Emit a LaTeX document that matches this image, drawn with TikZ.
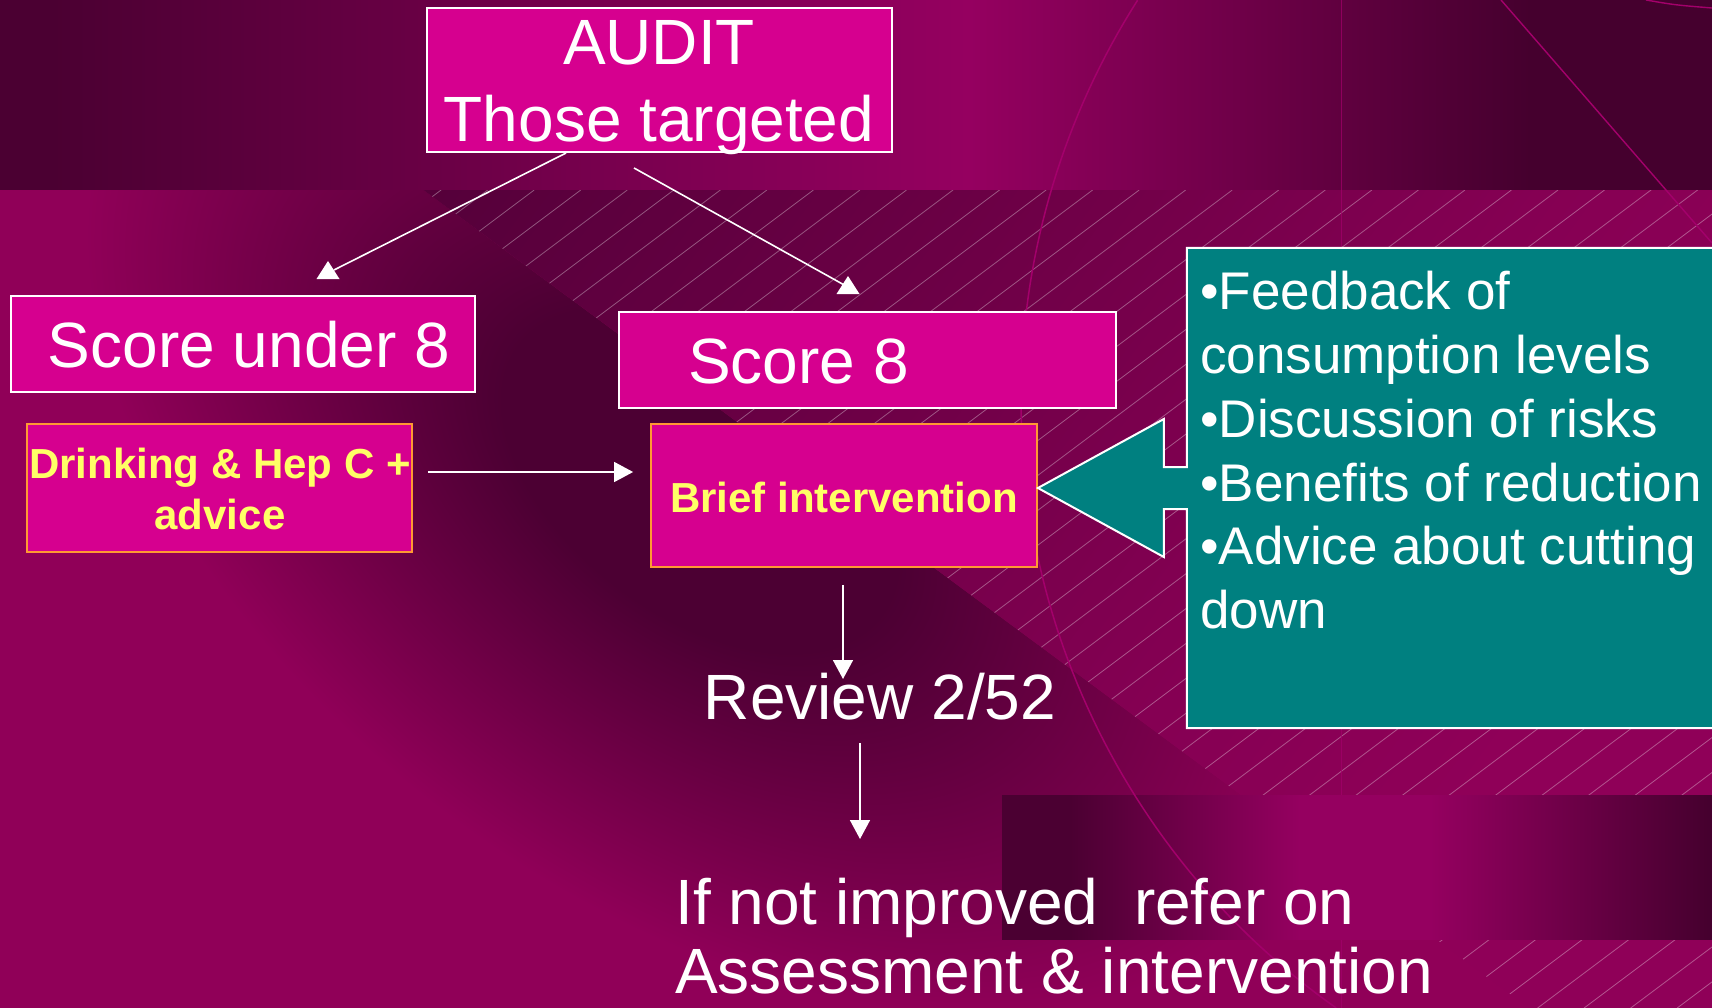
\documentclass[tikz,border=0pt]{standalone}
\usepackage{fontspec}
\setmainfont{Liberation Sans}
\usetikzlibrary{arrows.meta,calc}

\definecolor{bgmag}{HTML}{900058}
\definecolor{bgdark}{HTML}{4B0032}
\definecolor{bgdarkR}{HTML}{45002E}
\definecolor{bgpeak}{HTML}{950060}
\definecolor{lldark}{HTML}{4C0033}
\definecolor{hA}{HTML}{55003A}
\definecolor{hB}{HTML}{6B0045}
\definecolor{hC}{HTML}{850053}
\definecolor{hD}{HTML}{8F0058}
\definecolor{boxpink}{HTML}{D6008F}
\definecolor{tealc}{HTML}{008080}
\definecolor{yel}{HTML}{FFFF66}
\definecolor{orng}{HTML}{FF9933}
\definecolor{decorc}{HTML}{A3006B}

\pgfdeclarehorizontalshading{bandshade}{100bp}{color(0bp)=(bgdark); color(26.5bp)=(bgdark); color(53.3bp)=(bgpeak); color(69.7bp)=(bgdarkR); color(100bp)=(bgdarkR)}
\pgfdeclarehorizontalshading{rectshade}{100bp}{color(0bp)=(bgdark); color(29.8bp)=(bgdark); color(46bp)=(bgpeak); color(55.1bp)=(bgpeak); color(75bp)=(bgdarkR); color(100bp)=(bgdarkR)}
\pgfdeclarehorizontalshading{hatchshade}{100bp}{color(0bp)=(hA); color(25bp)=(hA); color(39.1bp)=(hB); color(53.1bp)=(hC); color(62.5bp)=(hD); color(100bp)=(hD)}
\pgfdeclareradialshading{llshade}{\pgfpointorigin}{color(0bp)=(lldark); color(8bp)=(lldark); color(25bp)=(bgmag); color(50bp)=(bgmag)}

\tikzset{
  pinkbox/.style={rectangle, fill=boxpink, draw=white, line width=2pt, inner sep=0pt},
  orangebox/.style={rectangle, fill=boxpink, draw=orng, line width=1.8pt, inner sep=0pt},
  bigtxt/.style={text=white, font=\fontsize{64}{77}\selectfont, inner sep=0pt, anchor=base},
  yeltxt/.style={text=yel, font=\bfseries\fontsize{42}{50}\selectfont, inner sep=0pt, anchor=base},
  listtxt/.style={text=white, font=\fontsize{53}{64}\selectfont, inner sep=0pt, anchor=base west},
  conn/.style={draw=white, line width=1.6pt},
  arr/.style={conn, -{Triangle[length=19pt,width=20pt]}},
  hatchline/.style={draw=white, opacity=0.33, line width=0.8pt},
  decorline/.style={draw=decorc, line width=1.5pt},
  callout/.style={fill=tealc, draw=white, line width=2pt, line join=miter},
}

\begin{document}
\begin{tikzpicture}[x=1pt,y=-1pt]
\useasboundingbox (0,0) rectangle (1712,1008);

% ---------- background ----------
\fill[bgmag] (0,0) rectangle (1712,1008);

% lower-left dark region
\begin{scope}
  \clip (0,190) -- (423.5,190) -- (1529,1008) -- (0,1008) -- cycle;
  \begin{scope}[transform canvas={shift={(700,480)},rotate=-36.6}]
    \shade[shading=llshade] (0,0) ellipse [x radius=700, y radius=420];
  \end{scope}
\end{scope}

% hatched region
\begin{scope}
  \clip (423.5,190) -- (1712,190) -- (1712,1008) -- (1529,1008) -- cycle;
  \begin{scope}[transform canvas={shift={(423.5,190)},rotate=-36.6}]
    \shade[shading=hatchshade] (0,-900) rectangle (1600,900);
  \end{scope}
  \foreach \i in {0,...,52}{
    \pgfmathsetmacro\cc{485.95+34.9*\i}
    \draw[hatchline] ({(\cc-1008)/0.75},1008) -- ({(\cc-190)/0.75},190);
  }
\end{scope}

% top band
\shade[shading=bandshade] (0,0) rectangle (1712,190);

% faint vertical line
\draw[decorline, line width=1pt, opacity=0.7] (1341,0) -- (1341,1008);

% bottom-right band
\shade[shading=rectshade] (1002,795) rectangle (1712,939);

% decorative arcs and line
\draw[decorline] plot[domain=125.2:212.5, samples=90] ({1765+744*cos(\x)},{400+744*sin(\x)});
\draw[decorline, line width=1.4pt] (1501,0) -- (1712,243);
\draw[decorline, line width=1.4pt] (1646,0) .. controls (1675,5) .. (1712,8);

% ---------- boxes ----------
\node[pinkbox, minimum width=465, minimum height=144] (audit) at (659.5,80) {};
\node[bigtxt] (auditA) at (659,65) {AUDIT};
\node[bigtxt] (auditB) at (659,142) {Those targeted};

\node[pinkbox, minimum width=464, minimum height=96] (under8) at (243,344) {};
\node[bigtxt] (under8t) at (249,367) {Score under 8};

\node[pinkbox, minimum width=497, minimum height=96] (score8) at (867.5,360) {};
\node[bigtxt, anchor=base west] (score8t) at (688,383) {Score 8};

\node[orangebox, minimum width=385, minimum height=128] (drink) at (219.5,488) {};
\node[yeltxt] (drinkA) at (220,478) {Drinking \& Hep C +};
\node[yeltxt] (drinkB) at (220,529) {advice};

\node[orangebox, minimum width=386, minimum height=143] (brief) at (844,495.5) {};
\node[yeltxt] (brieft) at (844,512) {Brief intervention};

% teal callout
\node[rectangle, inner sep=0pt, minimum width=538, minimum height=480] (tips) at (1456,488) {};
\path[callout] (tips.north west) -- (tips.north east) -- (tips.south east) -- (tips.south west)
  -- ($(tips.west)+(0,21)$) -- ++(-23,0) -- ++(0,48)
  -- ($(brief.east)+(0,-7.5)$)
  -- ($(tips.west)+(-23,-69)$) -- ++(0,48) -- ($(tips.west)+(0,-21)$) -- cycle;
\node[listtxt] (tl1) at (1200,309) {•Feedback of};
\node[listtxt] (tl2) at (1200,373) {consumption levels};
\node[listtxt] (tl3) at (1200,437) {•Discussion of risks};
\node[listtxt] (tl4) at (1200,501) {•Benefits of reduction};
\node[listtxt] (tl5) at (1200,564) {•Advice about cutting};
\node[listtxt] (tl6) at (1200,628) {down};

% free texts
\node[bigtxt] (review) at (880,719) {Review 2/52};
\node[bigtxt, anchor=base west] (refer) at (675,924) {If not improved\ \ refer on};
\node[bigtxt, anchor=base west] (assess) at (675,993) {Assessment \& intervention};

% ---------- connectors ----------
\coordinate (t1) at ($(under8.north)+(85,-34)$);
\coordinate (t2) at ($(score8.north)+(-19.5,-35)$);
\draw[conn] (audit.218.8) -- ($(t1)+(6,9)$);
\fill[white] (t1) -- ++(-11.5,18) -- ++(23,0) -- cycle;
\draw[conn] ($(audit.south)+(-25.5,15)$) -- ($(t2)+(7,15)$);
\fill[white] (t2) -- ++(-11.5,18) -- ++(23,0) -- cycle;

\draw[arr] ($(drink.east)+(15,-16)$) -- ($(brief.west)+(-17,-23.5)$);
\draw[arr] ($(brief.south)+(-1,17)$) -- ($(review.base)+(-37,-40)$);
\draw[arr] ($(review.base)+(-20,24)$) -- ($(refer.base west)+(185,-85)$);

\end{tikzpicture}
\end{document}
